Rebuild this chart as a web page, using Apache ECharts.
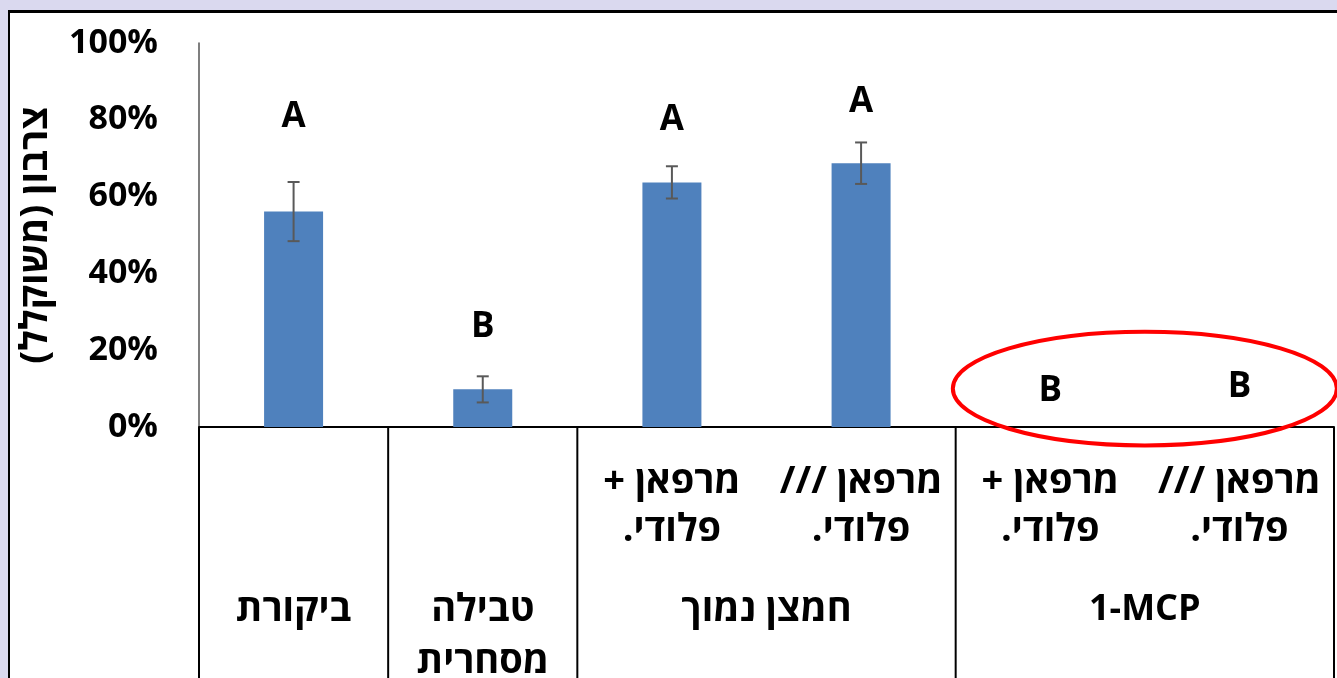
<!DOCTYPE html>
<html>
<head>
<meta charset="utf-8">
<script src="https://cdn.jsdelivr.net/npm/echarts@6/dist/echarts.min.js"></script>
<style>
  html, body { margin:0; padding:0; width:1337px; height:678px; overflow:hidden; background:#DAD9EF; }
  #box { position:absolute; left:8px; top:10px; width:1335px; height:670px; background:#fff;
         border-top:3px solid #000; border-left:2px solid #000; }
  #chart { position:absolute; left:0; top:0; width:1337px; height:678px; }
</style>
</head>
<body>
<div id="box"></div>
<div id="chart"></div>
<script>
const RLM = '\u200F';
// Level-1 category labels (one per bar)
const categories = ['', '', 'מרפאן +' + RLM + '\nפלודי.' + RLM, 'מרפאן ///' + RLM + '\nפלודי.' + RLM,
                    'מרפאן +' + RLM + '\nפלודי.' + RLM, 'מרפאן ///' + RLM + '\nפלודי.' + RLM];
// Level-2 group labels, placed at group centers (in category units)
const groupPositions = [0.5, 1.5, 3, 5];
const groupLabels = ['ביקורת', 'טבילה\nמסחרית', 'חמצן נמוך', '1-MCP'];
// Group divider boundaries (in category units)
const groupBoundaries = [0, 1, 2, 4, 6];
// Series values
const values = [0.561, 0.098, 0.637, 0.687, 0, 0];
const errors = [0.077, 0.034, 0.042, 0.054, 0, 0];
// Significance letters and their heights
const letters = ['A', 'B', 'A', 'A', 'B', 'B'];
const letterHeights = [0.807, 0.260, 0.800, 0.846, 0.094, 0.104];
// Highlight ellipse (category units / value units)
const highlight = { x: 5, y: 0.1, halfWidth: 1.015, halfHeight: 0.148 };
const yTitle = 'צרבון (משוקלל)' + RLM;

const FONT = "'Open Sans', 'DejaVu Sans', sans-serif";
const FS = 34;
const HFS = 38;

const chart = echarts.init(document.getElementById('chart'), null, { renderer: 'canvas' });
chart.setOption({
  animation: false,
  backgroundColor: 'transparent',
  grid: { left: 199, top: 43, width: 1135, height: 384, containLabel: false, outerBoundsMode: 'none' },
  xAxis: [
    {
      type: 'category', data: categories, position: 'bottom',
      axisLine: { show: true, lineStyle: { color: '#000', width: 2 } },
      axisTick: { show: false },
      axisLabel: { interval: 0, margin: 31, color: '#000', fontFamily: FONT, fontWeight: 'bold',
                   fontSize: HFS, lineHeight: 48 },
      splitLine: { show: false }
    },
    {
      type: 'value', min: 0, max: 6, interval: 0.5, position: 'bottom',
      axisLine: { show: false }, axisTick: { show: false }, splitLine: { show: false },
      axisLabel: {
        margin: 157, color: '#000', fontWeight: 'bold', lineHeight: 52,
        formatter: v => {
          const i = groupPositions.indexOf(v);
          if (i < 0) return '';
          const style = /[A-Za-z]/.test(groupLabels[i]) ? 'l' : 'h';
          return groupLabels[i].split('\n').map(s => '{' + style + '|' + s + '}').join('\n');
        },
        rich: {
          h: { fontFamily: FONT, fontWeight: 'bold', fontSize: HFS, lineHeight: 52, color: '#000' },
          l: { fontFamily: FONT, fontWeight: 'bold', fontSize: 36, lineHeight: 52, color: '#000' }
        }
      }
    }
  ],
  yAxis: {
    type: 'value', min: 0, max: 1, interval: 0.2,
    name: yTitle, nameLocation: 'middle', nameRotate: 90, nameGap: 144,
    nameTextStyle: { color: '#000', fontFamily: FONT, fontWeight: 'bold', fontSize: HFS },
    axisLine: { show: true, lineStyle: { color: '#555', width: 1.5 } },
    axisTick: { show: false },
    splitLine: { show: false },
    axisLabel: { margin: 41, color: '#000', fontFamily: FONT, fontWeight: 'bold', fontSize: FS,
                 formatter: v => Math.round(v * 100) + '%' }
  },
  series: [
    {
      type: 'bar', data: values, barWidth: 59, xAxisIndex: 0,
      itemStyle: { color: '#4F81BD' }
    },
    {
      type: 'custom', xAxisIndex: 0,
      data: values.map((v, i) => [i, v, errors[i]]),
      renderItem: (params, api) => {
        const e = api.value(2);
        if (!e) return null;
        const i = api.value(0), v = api.value(1);
        const top = api.coord([i, v + e]), bot = api.coord([i, v - e]);
        const cap = 6;
        const st = { stroke: '#595959', lineWidth: 2 };
        return { type: 'group', children: [
          { type: 'line', shape: { x1: top[0], y1: top[1], x2: bot[0], y2: bot[1] }, style: st },
          { type: 'line', shape: { x1: top[0] - cap, y1: top[1], x2: top[0] + cap, y2: top[1] }, style: st },
          { type: 'line', shape: { x1: bot[0] - cap, y1: bot[1], x2: bot[0] + cap, y2: bot[1] }, style: st }
        ]};
      },
      z: 5
    },
    {
      type: 'scatter', xAxisIndex: 0, symbolSize: 0,
      itemStyle: { opacity: 1 },
      data: letterHeights.map((h, i) => [i, h]),
      label: { show: true, position: 'inside', formatter: p => letters[p.dataIndex],
               color: '#000', opacity: 1, textBorderWidth: 0, fontFamily: FONT, fontWeight: 'bold', fontSize: 35 }
    },
    {
      type: 'custom', xAxisIndex: 1, clip: false,
      data: groupBoundaries.map(b => [b, 0]),
      renderItem: (params, api) => {
        const p = api.coord([api.value(0), 0]);
        return { type: 'line', shape: { x1: p[0], y1: p[1], x2: p[0], y2: api.getHeight() },
                 style: { stroke: '#000', lineWidth: 2 } };
      },
      z: 4
    },
    {
      type: 'custom', xAxisIndex: 1, clip: false,
      data: [[highlight.x, highlight.y, highlight.halfWidth, highlight.halfHeight]],
      renderItem: (params, api) => {
        const c = api.coord([api.value(0), api.value(1)]);
        const s = api.size([api.value(2), api.value(3)]);
        return { type: 'ellipse', shape: { cx: c[0], cy: c[1], rx: s[0], ry: s[1] },
                 style: { fill: 'none', stroke: '#FF0000', lineWidth: 4 } };
      },
      z: 10
    }
  ]
});
</script>
</body>
</html>
